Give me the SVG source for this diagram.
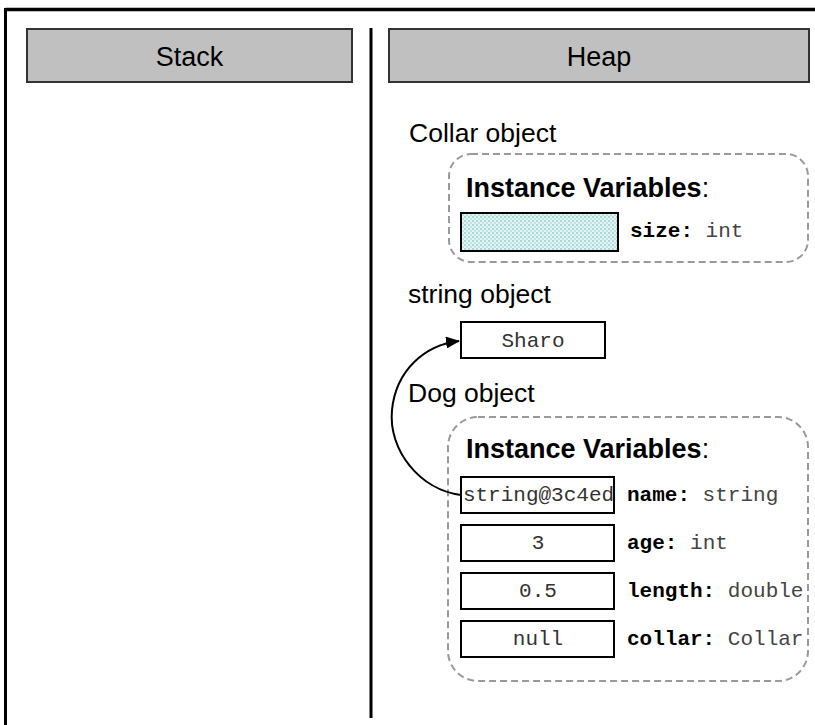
<svg xmlns="http://www.w3.org/2000/svg" width="815" height="725" viewBox="0 0 815 725">
<defs>
<style>
.hdr{fill:#c0c0c0;stroke:#333;stroke-width:2}
.hdrt{font-family:"Liberation Sans",Arial,sans-serif;font-size:27px;fill:#000;text-anchor:middle}
.lbl{font-family:"Liberation Sans",Arial,sans-serif;font-size:26.5px;fill:#000}
.iv{font-family:"Liberation Sans",Arial,sans-serif;font-size:27px;font-weight:bold;fill:#000}
.dash{fill:none;stroke:#9a9a9a;stroke-width:2;stroke-dasharray:7,4}
.box{fill:#fff;stroke:#000;stroke-width:2}
.val{font-family:"Liberation Mono","Courier New",monospace;font-size:21px;fill:#333;text-anchor:middle}
.fld{font-family:"Liberation Mono","Courier New",monospace;font-size:21px;fill:#444}
.fld tspan.b{font-weight:bold;fill:#000}
.conn{fill:none;stroke:#000;stroke-width:2}
</style>
<pattern id="dots" width="4" height="4" patternUnits="userSpaceOnUse">
<rect width="4" height="4" fill="#e4f3f3"/>
<rect x="0" y="0" width="2" height="2" fill="#a8d8d8"/>
<rect x="2" y="2" width="2" height="2" fill="#bfe2e2"/>
</pattern>
<marker id="arr" markerWidth="14" markerHeight="12" refX="13" refY="6" orient="auto" markerUnits="userSpaceOnUse">
<path d="M0,0 L14,6 L0,12 Z" fill="#000"/>
</marker>
</defs>
<rect width="815" height="725" fill="#fff"/>
<g id="frame">
<line x1="5.5" y1="9.5" x2="815" y2="9.5" stroke="#000" stroke-width="3.5"/>
<line x1="5.5" y1="8" x2="5.5" y2="725" stroke="#000" stroke-width="3"/>
<line x1="371" y1="28" x2="371" y2="718" stroke="#000" stroke-width="3"/>
</g>
<g id="stack-header">
<rect class="hdr" x="27" y="29" width="325" height="53"/>
<text class="hdrt" x="189.5" y="66">Stack</text>
</g>
<g id="heap-header">
<rect class="hdr" x="389" y="29" width="420" height="53"/>
<text class="hdrt" x="599" y="66">Heap</text>
</g>
<g id="collar-object">
<text class="lbl" x="409" y="142">Collar object</text>
<rect class="dash" x="449" y="154" width="359" height="108" rx="22"/>
<text class="iv" x="466" y="197">Instance Variables<tspan font-weight="normal">:</tspan></text>
<rect x="461" y="213" width="157" height="38" fill="url(#dots)" stroke="#000" stroke-width="2"/>
<text class="fld" x="630" y="237"><tspan class="b">size:</tspan> int</text>
</g>
<g id="string-object">
<text class="lbl" x="408" y="303">string object</text>
<rect class="box" x="461" y="322" width="144" height="36"/>
<text class="val" x="533" y="347">Sharo</text>
</g>
<g id="dog-object">
<text class="lbl" x="408" y="402">Dog object</text>
<rect class="dash" x="448" y="417" width="360" height="264" rx="30"/>
<text class="iv" x="466" y="458">Instance Variables<tspan font-weight="normal">:</tspan></text>
<rect class="box" x="461" y="477" width="153" height="36"/>
<text class="val" x="538.5" y="501">string@3c4ed</text>
<text class="fld" x="627" y="501"><tspan class="b">name:</tspan> string</text>
<rect class="box" x="461" y="525" width="153" height="36"/>
<text class="val" x="538" y="549">3</text>
<text class="fld" x="627" y="549"><tspan class="b">age:</tspan> int</text>
<rect class="box" x="461" y="573" width="153" height="36"/>
<text class="val" x="538" y="597">0.5</text>
<text class="fld" x="627" y="597"><tspan class="b">length:</tspan> double</text>
<rect class="box" x="461" y="621" width="153" height="36"/>
<text class="val" x="538" y="645">null</text>
<text class="fld" x="627" y="645"><tspan class="b">collar:</tspan> Collar</text>
</g>
<g id="connectors">
<path class="conn" d="M461,495 C420,490 388,450 392,410 C396,370 425,345 459,341" marker-end="url(#arr)"/>
</g>
</svg>
